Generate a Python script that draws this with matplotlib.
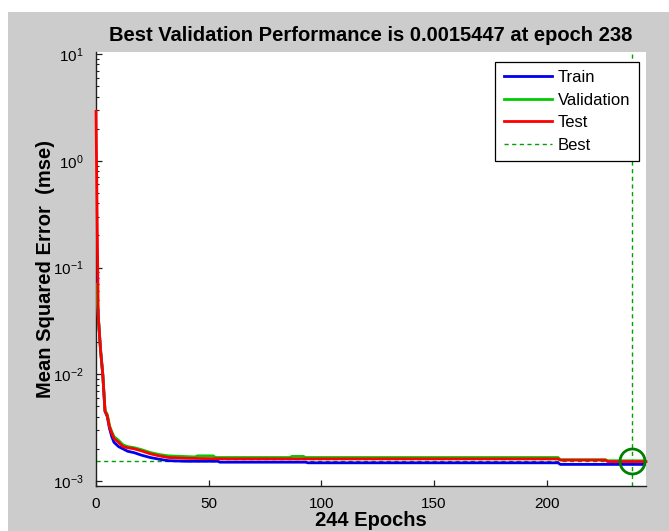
import matplotlib
matplotlib.use("Agg")
import matplotlib.pyplot as plt
from matplotlib.patches import Rectangle
from matplotlib.ticker import LogLocator, NullFormatter

plt.rcParams['font.family'] = ['Liberation Sans', 'DejaVu Sans']
plt.rcParams['mathtext.default'] = 'regular'

# ---- data (epoch, mse) ----
train_epochs = [0, 1, 2, 3, 4, 5, 6, 7, 8, 9, 10, 12, 14, 17, 20, 24, 28, 32, 40, 54, 55, 93, 94, 205, 206, 244]
train_mse = [0.08, 0.035, 0.017, 0.010, 0.0045, 0.0040, 0.0031, 0.0026, 0.0023, 0.0022, 0.0021, 0.0020,
             0.0019, 0.00184, 0.00175, 0.00166, 0.00160, 0.00155, 0.00153, 0.00153, 0.00150, 0.00150,
             0.00148, 0.00148, 0.00143, 0.00143]

val_epochs = [0, 1, 2, 3, 4, 5, 6, 7, 8, 9, 10, 12, 14, 17, 20, 24, 28, 32, 44, 45, 52, 53, 86, 87, 92, 93,
              205, 206, 226, 227, 244]
val_mse = [0.07, 0.035, 0.017, 0.010, 0.0046, 0.0042, 0.0033, 0.0029, 0.0026, 0.0025, 0.0024, 0.00218,
           0.0021, 0.00205, 0.00197, 0.00185, 0.00177, 0.00172, 0.00168, 0.00172, 0.00172, 0.00166,
           0.00166, 0.00170, 0.00170, 0.00166, 0.00166, 0.00158, 0.00158, 0.001548, 0.001545]

test_epochs = [0, 1, 2, 3, 4, 5, 6, 7, 8, 9, 10, 12, 14, 17, 20, 24, 28, 32, 40, 60, 205, 206, 226, 227, 244]
test_mse = [2.9, 0.035, 0.017, 0.010, 0.0045, 0.0041, 0.0032, 0.0028, 0.0025, 0.0024, 0.0023, 0.0021,
            0.00205, 0.0020, 0.00192, 0.00180, 0.00172, 0.00166, 0.00163, 0.00161, 0.00161, 0.00157,
            0.00157, 0.00152, 0.00152]

best_epoch = 238
best_perf = 0.0015447
n_epochs = 244
x_ticks = [0, 50, 100, 150, 200]

W, H = 669, 531
fig = plt.figure(figsize=(W / 100, H / 100), dpi=100, facecolor='white')
fig.patches.append(Rectangle((8 / W, 0), 1 - 8 / W, 1 - 12 / H, transform=fig.transFigure,
                             facecolor='#cccccc', edgecolor='none', zorder=-10))

ax = fig.add_axes([96 / W, 1 - 486 / H, (646 - 96) / W, (486 - 52) / H])
ax.set_facecolor('white')

lw = 2.0
ax.plot(train_epochs, train_mse, color='#0000ee', lw=lw, label='Train', zorder=3)
ax.plot(val_epochs, val_mse, color='#00cc00', lw=lw, label='Validation', zorder=3.1)
ax.plot(test_epochs, test_mse, color='#ff0000', lw=lw, label='Test', zorder=3.2, clip_on=False)
best_col = '#00a000'
ax.axvline(best_epoch, color=best_col, lw=1.0, ls=(0, (3, 2.5)), label='Best')
ax.plot([0, best_epoch], [best_perf, best_perf], color=best_col, lw=1.0, ls=(0, (3, 2.5)))
ax.plot([best_epoch], [best_perf], marker='o', ms=18, mfc='none', mec='#008000', mew=2.0, ls='none',
        zorder=4)

ax.set_yscale('log')
ax.set_xlim(0, n_epochs)
ax.set_ylim(10 ** -3.047, 10 ** 1.019)
ax.set_xticks(x_ticks)
ax.yaxis.set_major_locator(LogLocator(base=10, numticks=10))
ax.yaxis.set_minor_locator(LogLocator(base=10, subs=range(2, 10), numticks=20))
ax.yaxis.set_minor_formatter(NullFormatter())

for s in ['top', 'right']:
    ax.spines[s].set_visible(False)
for s in ['left', 'bottom']:
    ax.spines[s].set_linewidth(1.0)
    ax.spines[s].set_color('#202020')

ax.tick_params(axis='both', which='major', direction='in', length=4.5, width=0.9, labelsize=11,
               colors='#202020')
ax.tick_params(axis='y', which='minor', direction='in', length=2.5, width=0.8, colors='#202020')
ax.tick_params(axis='x', which='major', pad=8)
ax.tick_params(axis='y', which='major', pad=9)
for lab in ax.get_xticklabels() + ax.get_yticklabels():
    lab.set_color('black')

ax.set_title('Best Validation Performance is 0.0015447 at epoch 238', fontsize=14.5,
             fontweight='bold', pad=8)
ax.set_xlabel('244 Epochs', fontsize=14.5, fontweight='bold')
ax.xaxis.set_label_coords(0.5, -0.058)
ax.set_ylabel('Mean Squared Error  (mse)', fontsize=14.5, fontweight='bold')
ax.yaxis.set_label_coords(-0.075, 0.5)

leg = ax.legend(loc='upper right', bbox_to_anchor=(0.987, 0.9776), borderaxespad=0,
                fontsize=12, frameon=True, fancybox=False, framealpha=1,
                edgecolor='black', handlelength=2.9, handletextpad=0.36, labelspacing=0.45,
                borderpad=0.5)
leg.get_frame().set_linewidth(0.9)

fig.savefig('out.png', dpi=100, facecolor=fig.get_facecolor())
